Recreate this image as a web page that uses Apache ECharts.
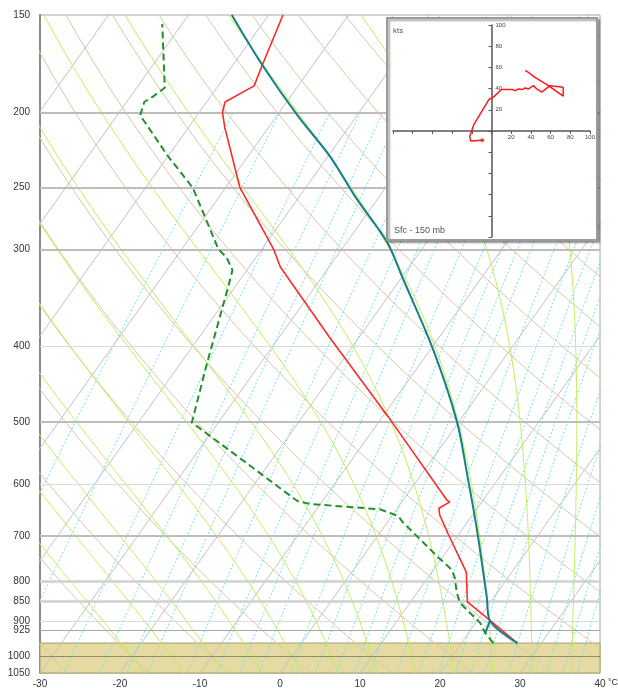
<!DOCTYPE html>
<html>
<head>
<meta charset="utf-8">
<script src="https://cdn.jsdelivr.net/npm/echarts@6/dist/echarts.min.js"></script>
<style>
  html, body { margin: 0; padding: 0; background: #fff; }
  #chart { width: 618px; height: 688px; }
</style>
</head>
<body>
<div id="chart"></div>
<script>
// sounding levels (hPa / degC)
const tempP = [961, 898, 851, 779, 694, 658, 645, 633, 630, 492, 389, 316, 300, 250, 209, 200, 194, 185, 173, 150];
const tempT = [27.0, 21.5, 17.1, 14.3, 8.5, 5.9, 5.2, 6.0, 5.5, -9.3, -23.7, -36.1, -38.5, -48.2, -55.5, -57.1, -57.7, -55.5, -56.4, -58.2];

const dewP = [961, 933, 906, 854, 829, 791, 774, 745, 672, 660, 647, 637, 631, 540, 507, 501, 420, 336, 319, 307, 300, 250, 227, 206, 202, 194, 191, 186, 154];
const dewT = [24.0, 22.1, 20.6, 16.3, 15.0, 13.3, 12.3, 9.4, 1.9, 0.8, -2.1, -11.3, -13.2, -26.7, -32.2, -33.3, -36.7, -40.8, -41.8, -43.7, -45.4, -54.1, -60.2, -65.9, -67.1, -67.8, -67.2, -66.5, -72.5];

// lifted parcel
const parcelP = [961, 900, 839, 688, 588, 500, 403, 326, 294, 258, 228, 202, 174, 150];
const parcelT = [27.0, 21.6, 19.1, 11.9, 6.0, -0.2, -9.7, -19.9, -24.9, -32.7, -39.7, -47.4, -56.3, -64.6];
const lclP = [933, 900];
const lclT = [22.1, 21.6];

// hodograph (kts)
const hodoU = [-9.4, -21.1, -22.1, -17.8, -2.7, 2.3, 10.1, 20.8, 24.2, 27.5, 30.9, 34.2, 37.6, 42.6, 46.0, 51.0, 59.4, 72.8, 72.8, 57.7, 42.6, 38.6, 34.2];
const hodoV = [-8.8, -9.4, -5.3, 6.3, 29.7, 32.2, 39.1, 39.1, 38.1, 39.7, 39.1, 40.6, 39.7, 42.8, 39.7, 36.6, 42.8, 41.3, 32.8, 42.8, 51.6, 54.7, 57.2];

// diagram background
const pressureTicks = [150, 200, 250, 300, 400, 500, 600, 700, 800, 850, 900, 925, 1000, 1050];
const isotherms = [-110, -100, -90, -80, -70, -60, -50, -40, -30, -20, -10, 0, 10, 20, 30, 40];
const dryThetas = [-30, -20, -10, 0, 10, 20, 30, 40, 50, 60, 70, 80, 90, 100, 110, 120, 130, 140, 150, 160, 170, 180];
const moistThetas = [-20, -15, -10, -5, 0, 5, 10, 15, 20, 25, 30, 35, 40];
const mixRatios = [0.1, 0.2, 0.4, 0.6, 0.8, 1, 1.5, 2, 2.5, 3, 4, 5, 6, 7, 8, 10, 12, 14, 16, 18, 20, 24, 28, 32, 36, 40];
const groundP = 961;

const P0 = 1050;
const K = 30.1; // skew
function skew(T, p) { return [T + K * Math.log(P0 / p), p]; }

const Rd = 287.04, Cp = 1005.7, Lv = 2.501e6, eps = 0.622;
function es(Tc) { return 6.112 * Math.exp(17.67 * Tc / (Tc + 243.5)); }
function dTdp(p, T) {
    const e = es(T - 273.15);
    const rs = eps * e / (p - e);
    return (Rd * T + Lv * rs) / (p * (Cp + Lv * Lv * rs * eps / (Rd * T * T)));
}
function moistLine(thw) {
    let up = [], T = thw + 273.15, p = 1000;
    up.push(skew(T - 273.15, p));
    while (p > 150) {
        const dp = -5;
        const k1 = dTdp(p, T);
        const k2 = dTdp(p + dp / 2, T + k1 * dp / 2);
        T += k2 * dp; p += dp;
        up.push(skew(T - 273.15, p));
    }
    let down = [];
    T = thw + 273.15; p = 1000;
    while (p < 1050) {
        const dp = 5;
        const k1 = dTdp(p, T);
        const k2 = dTdp(p + dp / 2, T + k1 * dp / 2);
        T += k2 * dp; p += dp;
        down.unshift(skew(T - 273.15, p));
    }
    return down.concat(up);
}
function dryLine(th) {
    let pts = [];
    for (let p = 1050; p >= 150; p -= 10) {
        pts.push(skew((th + 273.15) * Math.pow(p / 1000, 0.286) - 273.15, p));
    }
    return pts;
}
function mixLine(w) {
    let pts = [];
    for (let p = 1050; p >= 200; p -= 25) {
        const e = (w / 1000) * p / (eps + w / 1000);
        const a = Math.log(e / 6.112);
        pts.push(skew(243.5 * a / (17.67 - a), p));
    }
    return pts;
}

function bgLine(data, color, type, z) {
    return {
        type: 'line', xAxisIndex: 0, yAxisIndex: 0, data: data,
        symbol: 'none', silent: true, z: z, clip: true,
        lineStyle: { color: color, width: 1, type: type }
    };
}

let series = [];
isotherms.forEach(t => series.push(bgLine([skew(t, 1050), skew(t, 150)], '#c2c2c2', 'solid', 1)));
dryThetas.forEach(t => series.push(bgLine(dryLine(t), '#d8c8a2', 'solid', 1)));
mixRatios.forEach(w => series.push(bgLine(mixLine(w), '#6fe2e2', [2, 2], 1)));
moistThetas.forEach(t => series.push(bgLine(moistLine(t), '#c4ec58', 'solid', 1)));

// ground band + isobars
function isobarStyle(p) {
    if ([200, 250, 300, 500, 700].indexOf(p) >= 0) return { color: '#bdbdbd', width: 2, type: 'solid' };
    if ([800, 850].indexOf(p) >= 0) return { color: '#d0d0d0', width: 2.5, type: 'solid' };
    if (p === 925) return { color: '#a8a8a8', width: 1, type: 'solid' };
    if (p === 1000) return { color: '#8c8a70', width: 1, type: 'solid' };
    return { color: '#dadada', width: 1, type: 'solid' };
}
series.push({
    type: 'line', data: [], xAxisIndex: 0, yAxisIndex: 0, silent: true, z: 4,
    markArea: {
        silent: true,
        itemStyle: { color: '#e5daa2', borderColor: '#a39e66', borderWidth: 1 },
        data: [[{ yAxis: groundP }, { yAxis: 1050 }]]
    }
});
series.push({
    type: 'line', data: [], xAxisIndex: 0, yAxisIndex: 0, silent: true, z: 5,
    markLine: {
        silent: true, symbol: 'none', label: { show: false },
        data: pressureTicks.filter(p => p > 150 && p < 1050).map(p => ({ yAxis: p, lineStyle: isobarStyle(p) }))
    }
});

// sounding
series.push({
    type: 'line', name: 'Dew point', xAxisIndex: 0, yAxisIndex: 0, z: 6, symbol: 'none',
    data: dewP.map((p, i) => skew(dewT[i], p)),
    lineStyle: { color: '#23902a', width: 2, type: [7, 4] }
});
series.push({
    type: 'line', name: 'Temperature', xAxisIndex: 0, yAxisIndex: 0, z: 7, symbol: 'none',
    data: tempP.map((p, i) => skew(tempT[i], p)),
    lineStyle: { color: '#ff2a2a', width: 1.6 }
});
series.push({
    type: 'line', name: 'Parcel', xAxisIndex: 0, yAxisIndex: 0, z: 8, symbol: 'none', smooth: 0.3,
    data: parcelP.map((p, i) => skew(parcelT[i], p)),
    lineStyle: { color: '#157f8c', width: 2 }
});
series.push({
    type: 'line', xAxisIndex: 0, yAxisIndex: 0, z: 8, symbol: 'none',
    data: lclP.map((p, i) => skew(lclT[i], p)),
    lineStyle: { color: '#157f8c', width: 2 }
});

// hodograph
series.push({
    type: 'line', xAxisIndex: 1, yAxisIndex: 1, z: 12, symbol: 'none',
    data: hodoU.map((u, i) => [u, hodoV[i]]),
    lineStyle: { color: '#ff1a1a', width: 1.5 }
});
series.push({
    type: 'scatter', xAxisIndex: 1, yAxisIndex: 1, z: 12, symbolSize: 4,
    data: [[hodoU[0], hodoV[0]]],
    itemStyle: { color: '#ff1a1a' }
});

const hodoW = 197, hodoH = 212;
const hodoAxis = {
    type: 'value', min: -100, max: 100, interval: 20, z: 12,
    axisLine: { onZero: false, lineStyle: { color: '#555', width: 1.5 } },
    axisTick: { show: true, length: 3, lineStyle: { color: '#555' } },
    splitLine: { show: false },
    axisLabel: { fontSize: 6, color: '#444', formatter: v => v > 0 ? v : '' }
};

const chart = echarts.init(document.getElementById('chart'));
chart.setOption({
    animation: false,
    textStyle: { fontFamily: 'Arial, "Liberation Sans", sans-serif' },
    grid: [
        { left: 40, top: 15, width: 560, height: 658, show: true, borderColor: '#a6a6a6', borderWidth: 1, outerBoundsMode: 'none' },
        { left: 393, top: 25, width: hodoW, height: hodoH, z: 12, outerBoundsMode: 'none' }
    ],
    xAxis: [
        {
            gridIndex: 0, type: 'value', min: -30, max: 40, interval: 10,
            axisLine: { show: false, onZero: false }, axisTick: { show: false }, splitLine: { show: false },
            axisLabel: { fontSize: 10, color: '#333', margin: 6 }
        },
        Object.assign({ gridIndex: 1, position: 'bottom', offset: -hodoH / 2 }, hodoAxis,
            { axisLabel: Object.assign({}, hodoAxis.axisLabel, { margin: 3 }) })
    ],
    yAxis: [
        {
            gridIndex: 0, type: 'log', logBase: 10, min: 150, max: 1050, inverse: true,
            axisLine: { show: true, onZero: false, lineStyle: { color: '#8a8a8a', width: 2 } },
            axisTick: { show: false }, splitLine: { show: false },
            axisLabel: { fontSize: 10, color: '#333', margin: 10, customValues: pressureTicks, formatter: v => String(Math.round(v)) }
        },
        Object.assign({ gridIndex: 1, position: 'left', offset: -hodoW / 2 }, hodoAxis,
            { axisLabel: Object.assign({}, hodoAxis.axisLabel, { inside: true, margin: 4 }) })
    ],
    graphic: [
        {
            type: 'rect', z: 10, silent: true,
            shape: { x: 387, y: 18, width: 210, height: 222 },
            style: { fill: '#fff', stroke: '#9a9a9a', lineWidth: 2, shadowColor: 'rgba(0,0,0,0.35)', shadowOffsetX: 2, shadowOffsetY: 2, shadowBlur: 2 }
        },
        { type: 'text', z: 13, left: 393, top: 27, style: { text: 'kts', fontSize: 8, fill: '#555' } },
        { type: 'text', z: 13, left: 394, top: 226, style: { text: 'Sfc - 150 mb', fontSize: 9, fill: '#555' } },
        { type: 'text', z: 13, left: 608, top: 678, style: { text: '°C', fontSize: 9, fill: '#333' } }
    ],
    series: series
});
</script>
</body>
</html>
